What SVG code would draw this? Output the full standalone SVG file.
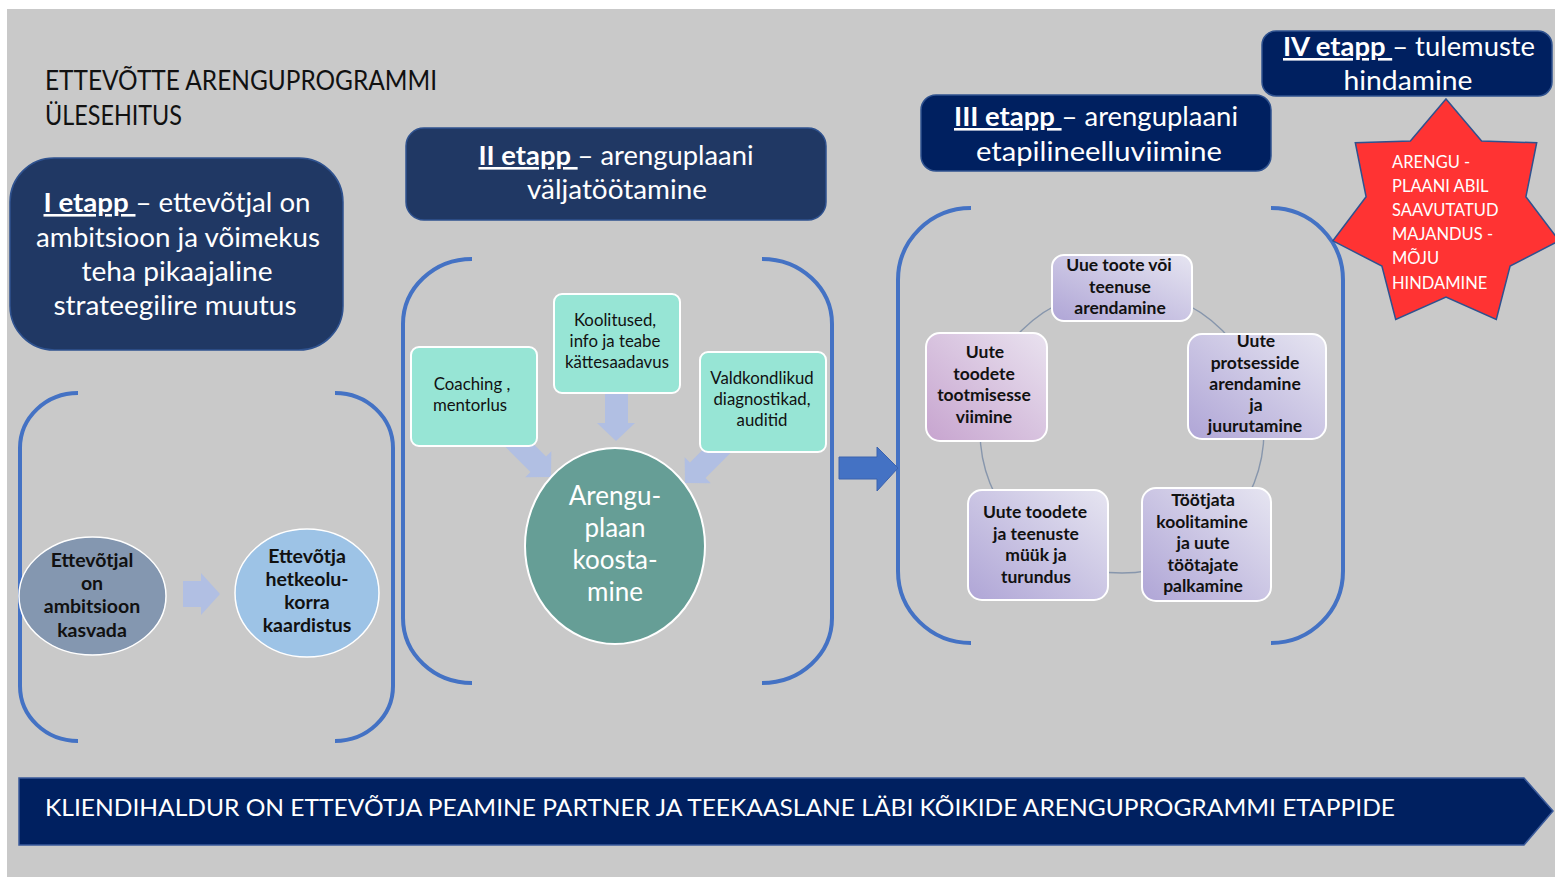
<svg xmlns="http://www.w3.org/2000/svg" width="1555" height="877" viewBox="0 0 1555 877">
<defs>
<style>
.t{font-family:Lato,"Liberation Sans","DejaVu Sans",sans-serif}
.w{fill:#ffffff}
.k{fill:#111111}
.b{font-weight:bold}
.brk{fill:none;stroke:#4472C4;stroke-width:4}
.navy2{fill:#203864;stroke:#2F528F;stroke-width:1.5}
.navy1{fill:#002060;stroke:#2F528F;stroke-width:1.5}
.teal{fill:#97E5D5;stroke:#ffffff;stroke-width:2}
.lav{fill:url(#lavg);stroke:#ffffff;stroke-width:2}
.pink{fill:url(#pinkg);stroke:#ffffff;stroke-width:2}
.larr{fill:#B1BFE3}
</style>
<linearGradient id="lavg" x1="0" y1="1" x2="1" y2="0">
<stop offset="0" stop-color="#AFA5D6"/>
<stop offset="1" stop-color="#E6E5F1"/>
</linearGradient>
<linearGradient id="pinkg" x1="0" y1="1" x2="1" y2="0">
<stop offset="0" stop-color="#C7A4CF"/>
<stop offset="1" stop-color="#E9E2EF"/>
</linearGradient>
</defs>

<rect x="0" y="0" width="1555" height="877" fill="#ffffff"/>
<rect x="7" y="9" width="1548" height="868" fill="#C9C9C9"/>

<g id="title">
<text class="t k" x="45" y="90" font-size="26" textLength="392" lengthAdjust="spacingAndGlyphs">ETTEVÕTTE ARENGUPROGRAMMI</text>
<text class="t k" x="45" y="125" font-size="26" textLength="137" lengthAdjust="spacingAndGlyphs">ÜLESEHITUS</text>
</g>

<g id="connectors">
<path class="brk" d="M78,393 A58,55 0 0 0 20,448 L20,686 A58,55 0 0 0 78,741"/>
<path class="brk" d="M335,393 A58,55 0 0 1 393,448 L393,686 A58,55 0 0 1 335,741"/>
<path class="brk" d="M472,259 A69,65 0 0 0 403,324 L403,618 A69,65 0 0 0 472,683"/>
<path class="brk" d="M762,259 A70,65 0 0 1 832,324 L832,618 A70,65 0 0 1 762,683"/>
<path class="brk" d="M971,208 A73,72 0 0 0 898,280 L898,571 A73,72 0 0 0 971,643"/>
<path class="brk" d="M1271,208 A72,72 0 0 1 1343,280 L1343,571 A72,72 0 0 1 1271,643"/>
<polygon class="larr" points="183,581 201,581 201,573 220,594 201,615 201,607 183,607"/>
<polygon class="larr" points="605,390 628,390 628,423 635,423 616,441 597,423 605,423"/>
<polygon class="larr" transform="translate(551,477) rotate(45)" points="-60,-11 -18,-11 -18,-18.5 0,0 -18,18.5 -18,11 -60,11"/>
<polygon class="larr" transform="translate(685,483) rotate(135)" points="-60,-11 -18,-11 -18,-18.5 0,0 -18,18.5 -18,11 -60,11"/>
<polygon fill="#4472C4" stroke="#3A62AE" stroke-width="1" points="839,457 877,457 877,447 898,468 877,491 877,479 839,479"/>
<circle cx="1122" cy="431" r="142" fill="none" stroke="#8796AC" stroke-width="1.4"/>
</g>

<g id="stage1">
<rect class="navy2" x="10" y="158" width="333" height="192" rx="44"/>
<text class="t w" x="177" y="212" font-size="26" text-anchor="middle" textLength="267" lengthAdjust="spacingAndGlyphs"><tspan class="b" text-decoration="underline">I etapp </tspan>– ettevõtjal on</text>
<text class="t w" x="178" y="247" font-size="26" text-anchor="middle" textLength="284" lengthAdjust="spacingAndGlyphs">ambitsioon ja võimekus</text>
<text class="t w" x="177" y="281" font-size="26" text-anchor="middle" textLength="191" lengthAdjust="spacingAndGlyphs">teha pikaajaline</text>
<text class="t w" x="175" y="315" font-size="26" text-anchor="middle" textLength="243" lengthAdjust="spacingAndGlyphs">strateegilire muutus</text>
</g>

<g id="node-ambitsioon">
<ellipse cx="92.5" cy="596" rx="73.5" ry="59" fill="#8497B0" stroke="#ffffff" stroke-width="1.5"/>
<text class="t k b" font-size="19.5" text-anchor="middle"><tspan x="92" y="567">Ettevõtjal</tspan><tspan x="92" y="590">on</tspan><tspan x="92" y="613">ambitsioon</tspan><tspan x="92" y="637">kasvada</tspan></text>
</g>
<g id="node-kaardistus">
<ellipse cx="307" cy="593" rx="72" ry="64" fill="#9DC3E6" stroke="#ffffff" stroke-width="1.5"/>
<text class="t k b" font-size="19.5" text-anchor="middle"><tspan x="307" y="563">Ettevõtja</tspan><tspan x="307" y="586">hetkeolu-</tspan><tspan x="307" y="609">korra</tspan><tspan x="307" y="632">kaardistus</tspan></text>
</g>

<g id="stage2">
<rect class="navy2" x="406" y="128" width="420" height="92" rx="18"/>
<text class="t w" x="616" y="165" font-size="26" text-anchor="middle" textLength="275" lengthAdjust="spacingAndGlyphs"><tspan class="b" text-decoration="underline">II etapp </tspan>– arenguplaani</text>
<text class="t w" x="617" y="199" font-size="26" text-anchor="middle" textLength="180" lengthAdjust="spacingAndGlyphs">väljatöötamine</text>
</g>

<g id="node-coaching">
<rect class="teal" x="411" y="347" width="126" height="99" rx="8"/>
<text class="t k" font-size="16.8" text-anchor="middle"><tspan x="472" y="390">Coaching ,</tspan><tspan x="470" y="411">mentorlus</tspan></text>
</g>
<g id="node-koolitused">
<rect class="teal" x="554" y="294" width="126" height="99" rx="8"/>
<text class="t k" font-size="16.8" text-anchor="middle"><tspan x="615" y="326">Koolitused,</tspan><tspan x="615" y="347">info ja teabe</tspan><tspan x="617" y="368">kättesaadavus</tspan></text>
</g>
<g id="node-valdkondlikud">
<rect class="teal" x="700" y="352" width="126" height="100" rx="8"/>
<text class="t k" font-size="16.8" text-anchor="middle"><tspan x="762" y="384">Valdkondlikud</tspan><tspan x="762" y="405">diagnostikad,</tspan><tspan x="762" y="426">auditid</tspan></text>
</g>
<g id="node-arenguplaan">
<ellipse cx="615" cy="546" rx="90" ry="98" fill="#669E96" stroke="#ffffff" stroke-width="2"/>
<text class="t w" font-size="26" text-anchor="middle"><tspan x="615" y="505">Arengu-</tspan><tspan x="615" y="537">plaan</tspan><tspan x="615" y="569">koosta-</tspan><tspan x="615" y="601">mine</tspan></text>
</g>

<g id="stage4">
<rect class="navy1" x="1262" y="31" width="290" height="65" rx="14"/>
<text class="t w" x="1409" y="56" font-size="26" text-anchor="middle" textLength="252" lengthAdjust="spacingAndGlyphs"><tspan class="b" text-decoration="underline">IV etapp </tspan>– tulemuste</text>
<text class="t w" x="1408" y="90" font-size="26" text-anchor="middle" textLength="129" lengthAdjust="spacingAndGlyphs">hindamine</text>
</g>

<g id="stage3">
<rect class="navy1" x="921" y="95" width="350" height="76" rx="15"/>
<text class="t w" x="1096" y="126" font-size="26" text-anchor="middle" textLength="284" lengthAdjust="spacingAndGlyphs"><tspan class="b" text-decoration="underline">III etapp </tspan>– arenguplaani</text>
<text class="t w" x="1099" y="161" font-size="26" text-anchor="middle" textLength="246" lengthAdjust="spacingAndGlyphs">etapilineelluviimine</text>
</g>

<g id="node-uue-toote">
<rect class="lav" x="1052" y="255" width="140" height="66" rx="12"/>
<text class="t k b" font-size="17.5" text-anchor="middle"><tspan x="1119" y="271">Uue toote või</tspan><tspan x="1120" y="293">teenuse</tspan><tspan x="1120" y="314">arendamine</tspan></text>
</g>
<g id="node-protsesside">
<rect class="lav" x="1188" y="334" width="138" height="105" rx="14"/>
<text class="t k b" font-size="17.5" text-anchor="middle"><tspan x="1256" y="347">Uute</tspan><tspan x="1255" y="369">protsesside</tspan><tspan x="1255" y="390">arendamine</tspan><tspan x="1256" y="411">ja</tspan><tspan x="1255" y="432">juurutamine</tspan></text>
</g>
<g id="node-tootjata">
<rect class="lav" x="1142" y="488" width="129" height="113" rx="14"/>
<text class="t k b" font-size="17.5" text-anchor="middle"><tspan x="1203" y="506">Töötjata</tspan><tspan x="1202" y="528">koolitamine</tspan><tspan x="1203" y="549">ja uute</tspan><tspan x="1203" y="571">töötajate</tspan><tspan x="1203" y="592">palkamine</tspan></text>
</g>
<g id="node-muuk">
<rect class="lav" x="968" y="490" width="140" height="110" rx="14"/>
<text class="t k b" font-size="17.5" text-anchor="middle"><tspan x="1035" y="518">Uute toodete</tspan><tspan x="1036" y="540">ja teenuste</tspan><tspan x="1036" y="561">müük ja</tspan><tspan x="1036" y="583">turundus</tspan></text>
</g>
<g id="node-tootmisesse">
<rect class="pink" x="926" y="333" width="121" height="108" rx="14"/>
<text class="t k b" font-size="17.5" text-anchor="middle"><tspan x="985" y="358">Uute</tspan><tspan x="984" y="380">toodete</tspan><tspan x="984" y="401">tootmisesse</tspan><tspan x="984" y="423">viimine</tspan></text>
</g>

<g id="node-star">
<polygon fill="#FF3333" stroke="#2F528F" stroke-width="1.5" points="1446,99 1481.6,141.1 1536.7,142.7 1525.9,196.8 1559.1,240.8 1510.1,266.1 1496.3,319.5 1446,297 1395.7,319.5 1381.9,266.1 1332.9,240.8 1366.1,196.8 1355.3,142.7 1410.4,141.1"/>
<text class="t w" font-size="16.5"><tspan x="1392" y="168">ARENGU -</tspan><tspan x="1392" y="192">PLAANI  ABIL</tspan><tspan x="1392" y="216">SAAVUTATUD</tspan><tspan x="1392" y="240">MAJANDUS -</tspan><tspan x="1392" y="264">MÕJU</tspan><tspan x="1392" y="289">HINDAMINE</tspan></text>
</g>

<g id="banner">
<polygon fill="#002060" stroke="#3A5A9A" stroke-width="1.5" points="19,778 1524,778 1553,811 1524,845 19,845"/>
<text class="t w" x="45" y="816" font-size="24" textLength="1350" lengthAdjust="spacingAndGlyphs">KLIENDIHALDUR ON ETTEVÕTJA PEAMINE PARTNER JA TEEKAASLANE LÄBI KÕIKIDE ARENGUPROGRAMMI ETAPPIDE</text>
</g>
</svg>
